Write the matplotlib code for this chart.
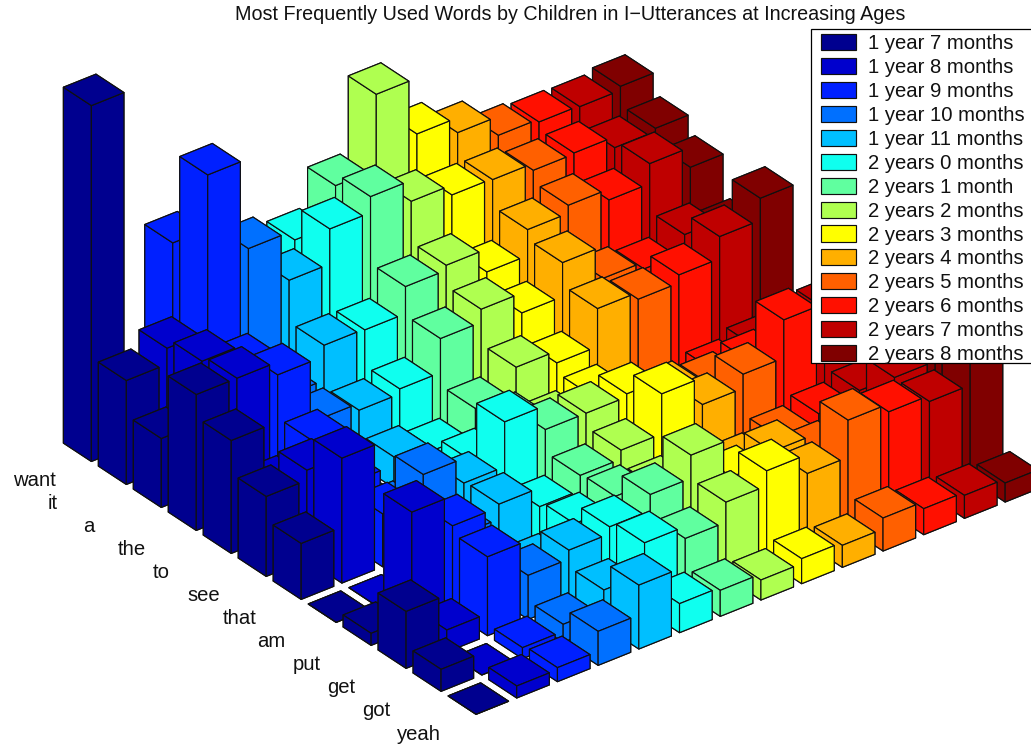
import numpy as np
import matplotlib
matplotlib.use("Agg")
import matplotlib.pyplot as plt
from matplotlib.patches import Patch, Rectangle

plt.rcParams['font.family'] = ['Liberation Sans', 'DejaVu Sans']

words = ['want', 'it', 'a', 'the', 'to', 'see', 'that', 'am', 'put', 'get', 'got', 'yeah']
ages = ['1 year 7 months', '1 year 8 months', '1 year 9 months', '1 year 10 months',
        '1 year 11 months', '2 years 0 months', '2 years 1 month', '2 years 2 months',
        '2 years 3 months', '2 years 4 months', '2 years 5 months', '2 years 6 months',
        '2 years 7 months', '2 years 8 months']
colors = ['#00008f', '#0000cd', '#0020ff', '#0070ff', '#00bfff', '#0fffef', '#60ff9f',
          '#afff50', '#ffff00', '#ffaf00', '#ff6000', '#ff1000', '#bf0000', '#800000']

s_1y7 = [356, 104, 69, 136, 113, 80, 56, 0, 12, 57, 22, 0]
s_1y8 = [40, 120, 130, 136, 50, 90, 125, 0, 117, 22, 0, 12]
s_1y9 = [186, 277, 110, 123, 80, 60, 53, 30, 87, 79, 11, 14]
s_1y10 = [150, 187, 62, 62, 5, 15, 76, 38, 25, 44, 18, 34]
s_1y11 = [120, 139, 97, 55, 31, 25, 51, 53, 15, 53, 36, 64]
s_2y0 = [140, 174, 96, 60, 22, 35, 96, 34, 40, 60, 67, 29]
s_2y1 = [178, 190, 123, 94, 47, 55, 72, 49, 51, 76, 55, 26]
s_2y2 = [253, 169, 128, 107, 72, 40, 72, 58, 44, 99, 75, 20]
s_2y3 = [197, 159, 105, 87, 60, 50, 75, 98, 40, 61, 90, 25]
s_2y4 = [182, 158, 131, 121, 98, 30, 60, 71, 34, 70, 71, 22]
s_2y5 = [163, 151, 139, 89, 91, 15, 53, 85, 45, 53, 108, 33]
s_2y6 = [160, 152, 128, 82, 99, 26, 59, 123, 52, 60, 100, 26]
s_2y7 = [159, 141, 148, 100, 121, 34, 60, 118, 59, 95, 94, 23]
s_2y8 = [163, 144, 128, 88, 143, 30, 40, 100, 80, 120, 160, 19]
series = [s_1y7, s_1y8, s_1y9, s_1y10, s_1y11, s_2y0, s_2y1, s_2y2, s_2y3, s_2y4,
          s_2y5, s_2y6, s_2y7, s_2y8]

W, H = 1031, 744
fig = plt.figure(figsize=(W / 100, H / 100), dpi=100)

# square 3D axes, larger than the figure, so the orthographic scale is known
L = 1031.0
cx, cy = 550.55, 276.1
frac = 0.095 / 0.185
left = cx - frac * L
bottom = (H - cy) - frac * L
ax = fig.add_axes([left / W, bottom / H, L / W, L / H], projection='3d',
                  computed_zorder=False, proj_type='ortho')
ax.set_axis_off()
ax.view_init(elev=30.9, azim=-128)

n_i, n_j = len(series), len(words)
zmax = 380.0
order = 0
for i in range(n_i - 1, -1, -1):
    for j in range(n_j):
        b = ax.bar3d(i - 0.4, (n_j - 1 - j) - 0.4, 0, 0.8, 0.8, series[i][j],
                     color=colors[i], edgecolor='#101010', linewidth=0.85, shade=False)
        b.set_zorder(10 + order)
        order += 1

ax.set_xlim(-0.5, n_i - 0.5)
ax.set_ylim(-0.5, n_j - 0.5)
ax.set_zlim(0, zmax)

scale = L / 1.85
aspect = np.array([n_i * 51.65, n_j * 56.8, zmax * 1.165]) / scale
zoom = np.linalg.norm(aspect) / (1.8294640721620434 * 25 / 24)
ax.set_box_aspect(aspect, zoom=zoom)

for j, w in enumerate(words):
    fig.text((13 + 34.9 * j) / W, 1 - (480 + 23.1 * j) / H, w, ha='left', va='center',
             fontsize=14.6, color='#111111')

fig.text(570 / W, 1 - 14 / H, 'Most Frequently Used Words by Children in I\u2212Utterances at Increasing Ages',
         ha='center', va='center', fontsize=14.2, color='#111111')

frame = Rectangle((810.5 / W, 1 - 362.7 / H), 225 / W, 333.4 / H, transform=fig.transFigure,
                  facecolor='white', edgecolor='black', linewidth=0.9, zorder=2999)
fig.add_artist(frame)

handles = [Patch(facecolor=c, edgecolor='#101010', linewidth=0.85) for c in colors]
leg = fig.legend(handles, ages, loc='upper left', bbox_to_anchor=(816 / W, 1 - 29.3 / H),
                 borderaxespad=0, borderpad=0.24, fontsize=14.6, handlelength=1.72,
                 handleheight=0.84, handletextpad=0.59, labelspacing=0.24,
                 frameon=False)
leg.set_zorder(3000)
for t in leg.get_texts():
    t.set_color('#111111')

fig.savefig('out.png', dpi=100)
